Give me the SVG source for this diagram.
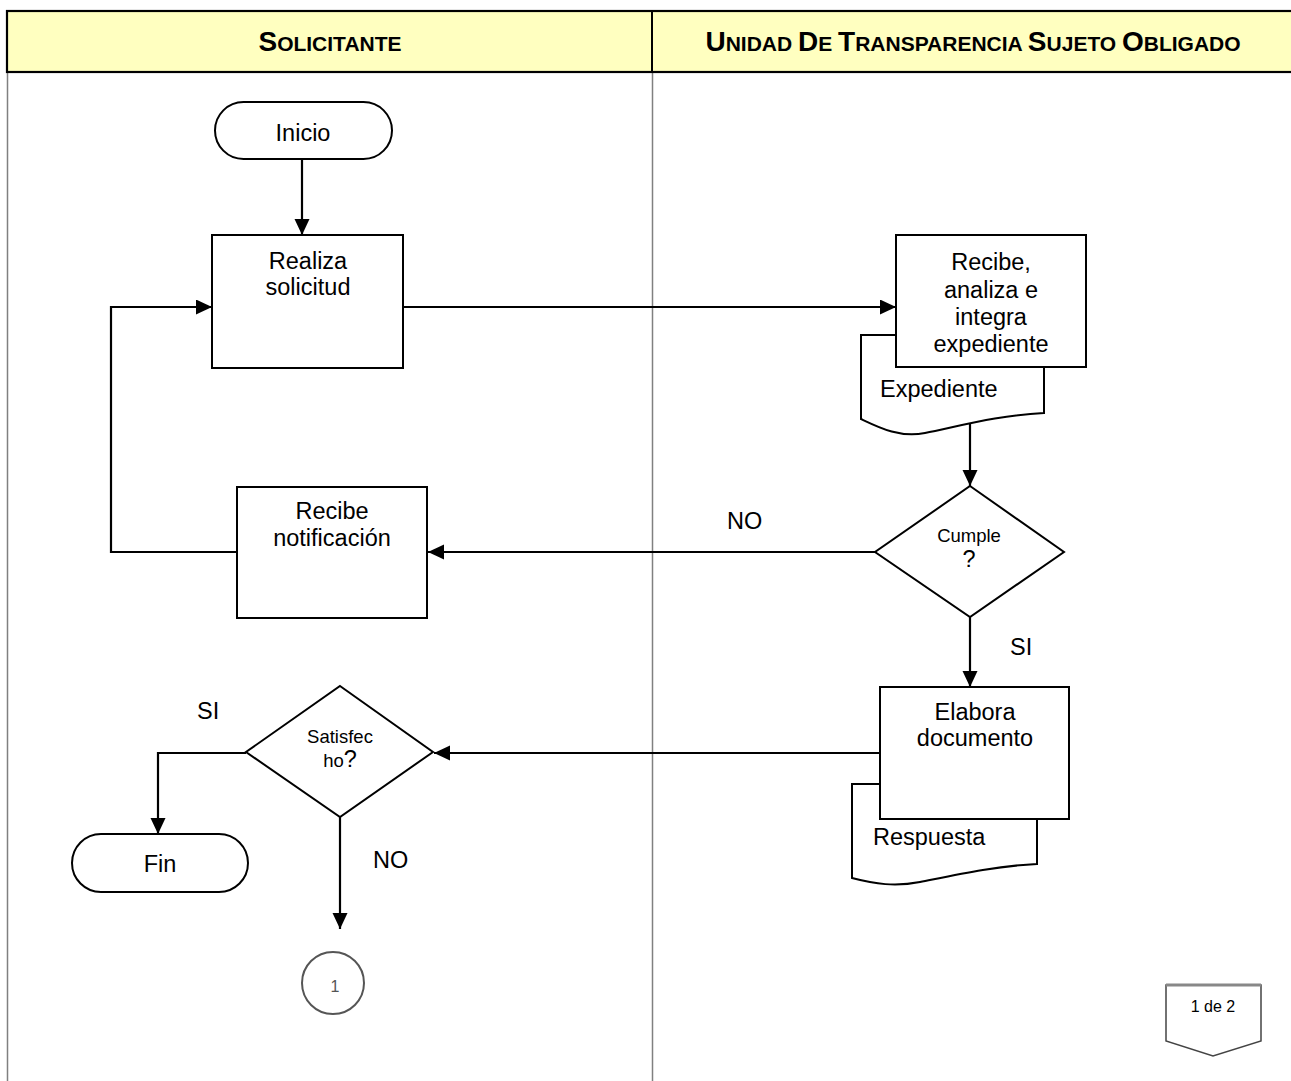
<svg xmlns="http://www.w3.org/2000/svg" width="1291" height="1081" viewBox="0 0 1291 1081">
<defs>
<marker id="arr" markerUnits="userSpaceOnUse" markerWidth="18" markerHeight="16" refX="16" refY="7.5" orient="auto">
<path d="M0,0 L16,7.5 L0,15 Z" fill="#000"/>
</marker>
</defs>
<style>
text{font-family:"Liberation Sans",Arial,sans-serif;fill:#000}
.t{font-size:23.5px}
.s{font-size:18.5px}
.c{text-anchor:middle}
.h{font-weight:bold}
.box{fill:#fff;stroke:#000;stroke-width:2}
.ln{fill:none;stroke:#000;stroke-width:2.2}
.lane{stroke:#808080;stroke-width:1.5}
</style>
<rect width="1291" height="1081" fill="#fff"/>
<g id="lanes">
<line class="lane" x1="7.5" y1="72" x2="7.5" y2="1081"/>
<line class="lane" x1="652.5" y1="72" x2="652.5" y2="1081"/>
<rect x="7" y="11" width="1290" height="61" fill="#FFFFC0" stroke="#000" stroke-width="2.2"/>
<line x1="652" y1="11" x2="652" y2="72" stroke="#000" stroke-width="2"/>
<text class="h c" x="330" y="51"><tspan font-size="28">S</tspan><tspan font-size="21">OLICITANTE</tspan></text>
<text class="h c" x="973" y="51"><tspan font-size="28">U</tspan><tspan font-size="21">NIDAD </tspan><tspan font-size="28">D</tspan><tspan font-size="21">E </tspan><tspan font-size="28">T</tspan><tspan font-size="21">RANSPARENCIA </tspan><tspan font-size="28">S</tspan><tspan font-size="21">UJETO </tspan><tspan font-size="28">O</tspan><tspan font-size="21">BLIGADO</tspan></text>
</g>
<g id="connectors">
<line class="ln" x1="302" y1="159" x2="302" y2="235" marker-end="url(#arr)"/>
<line class="ln" x1="403" y1="307" x2="896" y2="307" marker-end="url(#arr)"/>
<line class="ln" x1="970" y1="414" x2="970" y2="486" marker-end="url(#arr)"/>
<line class="ln" x1="875" y1="552" x2="428" y2="552" marker-end="url(#arr)"/>
<polyline class="ln" points="237,552 111,552 111,307 212,307" marker-end="url(#arr)"/>
<line class="ln" x1="970" y1="617" x2="970" y2="687" marker-end="url(#arr)"/>
<line class="ln" x1="880" y1="753" x2="434" y2="753" marker-end="url(#arr)"/>
<polyline class="ln" points="246,753 158,753 158,834" marker-end="url(#arr)"/>
<line class="ln" x1="340" y1="817" x2="340" y2="929" marker-end="url(#arr)"/>
<text class="t" x="727" y="529">NO</text>
<text class="t" x="1010" y="655">SI</text>
<text class="t" x="197" y="719">SI</text>
<text class="t" x="373" y="868">NO</text>
</g>
<g id="inicio">
<rect class="box" x="215" y="102" width="177" height="57" rx="28.5"/>
<text class="t c" x="303" y="141">Inicio</text>
</g>
<g id="realiza">
<rect class="box" x="212" y="235" width="191" height="133"/>
<text class="t c" x="308" y="269">Realiza</text>
<text class="t c" x="308" y="295">solicitud</text>
</g>
<g id="expediente">
<path class="box" d="M861,335 H1044 V413 C1000,415 960,426 925,433 C900,438 880,428 861,419 Z"/>
<text class="t" x="880" y="397">Expediente</text>
</g>
<g id="recibe">
<rect class="box" x="896" y="235" width="190" height="132"/>
<text class="t c" x="991" y="270">Recibe,</text>
<text class="t c" x="991" y="298">analiza e</text>
<text class="t c" x="991" y="325">integra</text>
<text class="t c" x="991" y="352">expediente</text>
</g>
<g id="cumple">
<polygon class="box" points="970,486 1064,552 970,617 875,552"/>
<text class="s c" x="969" y="542">Cumple</text>
<text class="t c" x="969" y="567">?</text>
</g>
<g id="notificacion">
<rect class="box" x="237" y="487" width="190" height="131"/>
<text class="t c" x="332" y="519">Recibe</text>
<text class="t c" x="332" y="546">notificación</text>
</g>
<g id="respuesta">
<path class="box" d="M852,784 H1037 V864 C995,866 955,875 920,882 C895,887 875,884 852,878 Z"/>
<text class="t" x="873" y="845">Respuesta</text>
</g>
<g id="elabora">
<rect class="box" x="880" y="687" width="189" height="132"/>
<text class="t c" x="975" y="720">Elabora</text>
<text class="t c" x="975" y="746">documento</text>
</g>
<g id="satisfecho">
<polygon class="box" points="340,686 433,752 340,817 246,752"/>
<text class="s c" x="340" y="743">Satisfec</text>
<text class="c" x="340" y="767"><tspan font-size="18.5">ho</tspan><tspan font-size="23.5">?</tspan></text>
</g>
<g id="fin">
<rect class="box" x="72" y="834" width="176" height="58" rx="29"/>
<text class="t c" x="160" y="872">Fin</text>
</g>
<g id="conector1">
<circle cx="333" cy="983" r="31" fill="#fff" stroke="#555" stroke-width="2"/>
<text class="c" x="335" y="992" font-size="16" style="fill:#555">1</text>
</g>
<g id="pagina">
<path d="M1166,985 H1261 V1041 L1213,1056 L1166,1041 Z" fill="#fff" stroke="#444" stroke-width="1.5"/>
<line x1="1166" y1="985" x2="1261" y2="985" stroke="#888" stroke-width="3"/>
<text class="c" x="1213" y="1012" font-size="16">1 de 2</text>
</g>
</svg>
